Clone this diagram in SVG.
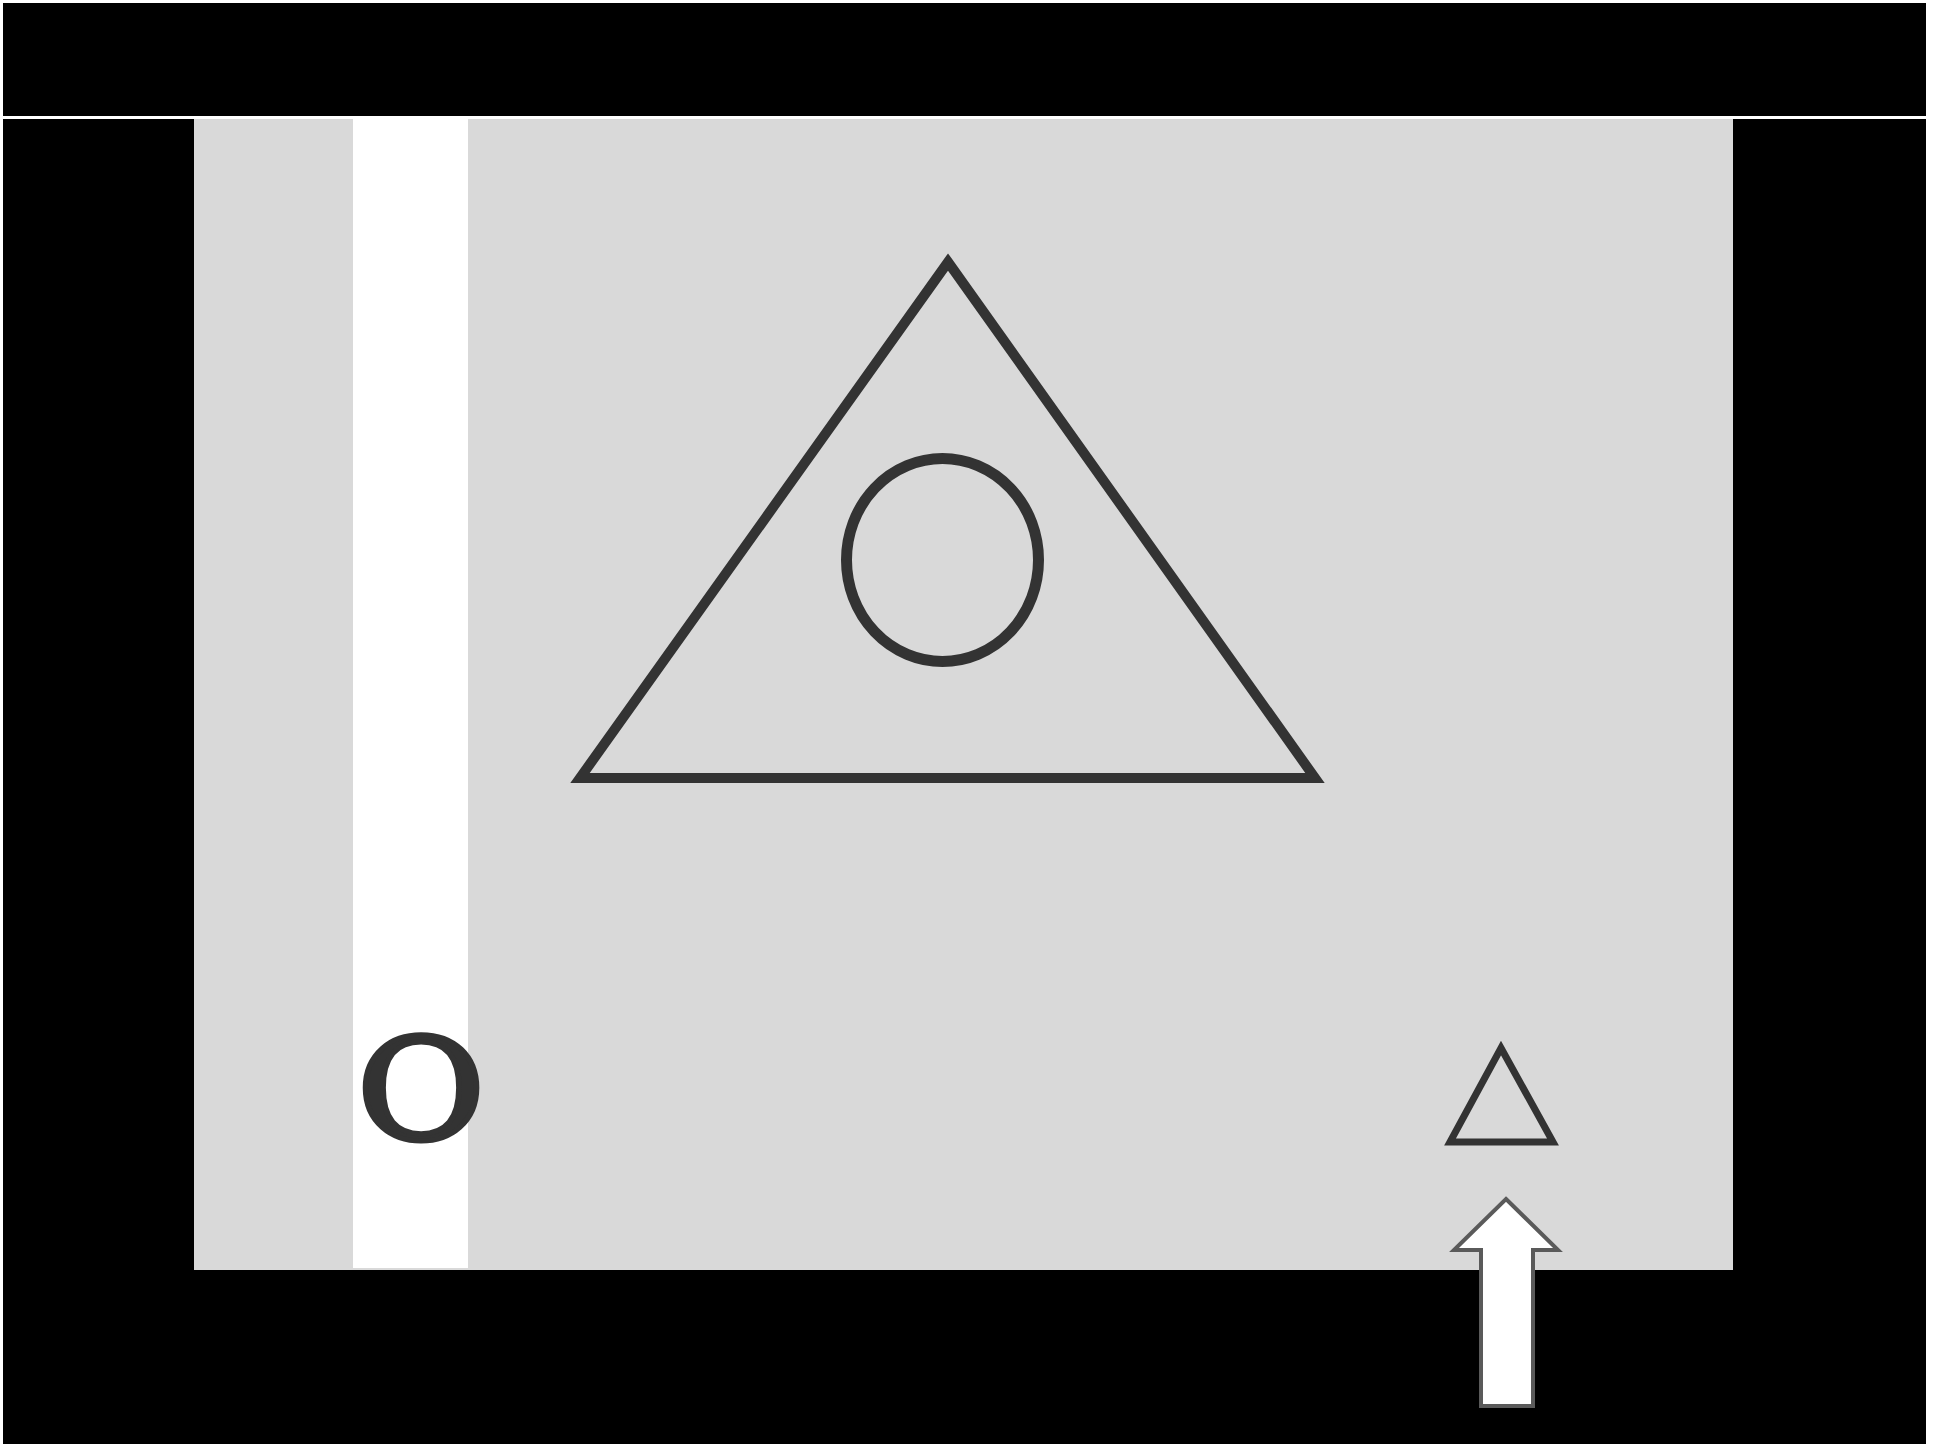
<svg xmlns="http://www.w3.org/2000/svg" width="1948" height="1444" viewBox="0 0 1948 1444">
  <style>
    .frame { fill: #000000; }
    .panel { fill: #d9d9d9; }
    .stripe { fill: #ffffff; }
    .shape { fill: none; stroke: #333333; stroke-linejoin: miter; }
    .label { font-family: "DejaVu Serif", "Liberation Serif", serif; font-weight: normal; fill: #333333; stroke: #333333; stroke-width: 5; stroke-linejoin: round; }
    .arrow { fill: #ffffff; stroke: #5a5a5a; stroke-width: 4; stroke-linejoin: miter; }
  </style>
  <rect x="0" y="0" width="1948" height="1444" fill="#ffffff"/>
  <g id="frame">
    <rect class="frame" x="3" y="3" width="1923" height="113"/>
    <rect class="frame" x="3" y="119" width="1923" height="1325"/>
  </g>
  <g id="panel">
    <rect class="panel" x="194" y="119" width="1539" height="1151"/>
    <rect class="stripe" x="353" y="119" width="115" height="1149"/>
  </g>
  <g id="big-triangle">
    <polygon class="shape" stroke-width="10" points="948,262 1315,778 580,778"/>
  </g>
  <g id="circle">
    <ellipse class="shape" stroke-width="11" cx="942.5" cy="560" rx="96" ry="101.5"/>
  </g>
  <g id="label-o">
    <text class="label" x="0" y="0" transform="translate(421,1139) scale(1.12,1)" font-size="140" text-anchor="middle">O</text>
  </g>
  <g id="small-triangle">
    <polygon class="shape" stroke="#111111" stroke-width="7" points="1501,1048 1553,1142 1450,1142"/>
  </g>
  <g id="connectors">
    <polygon class="arrow" points="1506,1199 1558,1250 1533,1250 1533,1406 1481,1406 1481,1250 1454,1250"/>
  </g>
</svg>
